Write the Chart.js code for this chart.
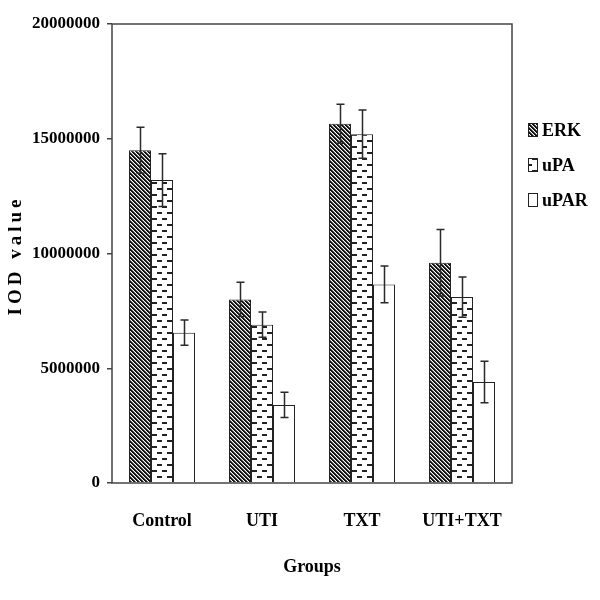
<!DOCTYPE html>
<html>
<head>
<meta charset="utf-8">
<script src="https://cdn.jsdelivr.net/npm/chart.js@4/dist/chart.umd.min.js"></script>
<style>
  html, body { margin: 0; padding: 0; background: #ffffff; }
  #wrap { width: 600px; height: 600px; }
</style>
</head>
<body>
<div id="wrap"><canvas id="c" width="600" height="600"></canvas></div>
<script>
// ---- data ----
const categories = ["Control", "UTI", "TXT", "UTI+TXT"];
const seriesNames = ["ERK", "uPA", "uPAR"];
const erkValues = [14500000, 8000000, 15650000, 9600000];
const erkErrors = [1000000, 750000, 850000, 1450000];
const upaValues = [13200000, 6900000, 15200000, 8100000];
const upaErrors = [1150000, 550000, 1050000, 880000];
const uparValues = [6550000, 3400000, 8650000, 4400000];
const uparErrors = [550000, 550000, 800000, 900000];
const yTicks = [0, 5000000, 10000000, 15000000, 20000000];
const yTitle = "IOD value";
const xTitle = "Groups";

const FONT = "'Liberation Serif', 'Times New Roman', serif";

// ---- patterns ----
function hatchPattern() {
  const c = document.createElement('canvas');
  c.width = 4; c.height = 4;
  const g = c.getContext('2d');
  g.fillStyle = '#ffffff'; g.fillRect(0, 0, 4, 4);
  g.fillStyle = '#111111';
  for (let y = 0; y < 4; y++) {
    g.fillRect(y, y, 1, 1);
    g.fillRect((y + 1) % 4, y, 1, 1);
  }
  g.fillStyle = '#777777';
  for (let y = 0; y < 4; y++) {
    g.fillRect((y + 2) % 4, y, 1, 1);
  }
  return g.createPattern(c, 'repeat');
}
function dashPattern() {
  const c = document.createElement('canvas');
  c.width = 10; c.height = 12;
  const g = c.getContext('2d');
  g.fillStyle = '#ffffff'; g.fillRect(0, 0, 10, 12);
  g.fillStyle = '#222222';
  g.fillRect(2, 2, 5, 2);
  g.fillRect(7, 8, 3, 2);
  g.fillRect(0, 8, 2, 2);
  return g.createPattern(c, 'repeat');
}
const fills = [hatchPattern(), dashPattern(), '#ffffff'];
const valueSets = [erkValues, upaValues, uparValues];
const errorSets = [erkErrors, upaErrors, uparErrors];

// ---- plugins ----
const errorBars = {
  id: 'errorBars',
  afterDatasetsDraw(chart) {
    const ctx = chart.ctx;
    const ys = chart.scales.y;
    ctx.save();
    ctx.strokeStyle = '#2a2a2a';
    ctx.lineWidth = 1.5;
    chart.data.datasets.forEach((ds, i) => {
      const meta = chart.getDatasetMeta(i);
      meta.data.forEach((el, j) => {
        const v = ds.data[j], e = errorSets[i][j];
        const x = Math.round(el.x) + 0.5;
        const yt = ys.getPixelForValue(v + e);
        const yb = ys.getPixelForValue(v - e);
        ctx.beginPath();
        ctx.moveTo(x, yt); ctx.lineTo(x, yb);
        ctx.moveTo(x - 4, yt); ctx.lineTo(x + 4, yt);
        ctx.moveTo(x - 4, yb); ctx.lineTo(x + 4, yb);
        ctx.stroke();
      });
    });
    ctx.restore();
  }
};

const frame = {
  id: 'frame',
  afterDraw(chart) {
    const a = chart.chartArea;
    const ctx = chart.ctx;
    ctx.save();
    ctx.strokeStyle = '#444444';
    ctx.lineWidth = 1.5;
    ctx.strokeRect(a.left, a.top, a.right - a.left, a.bottom - a.top);
    ctx.restore();
  }
};

const yTitlePlugin = {
  id: 'yTitlePlugin',
  afterDraw(chart) {
    const ctx = chart.ctx;
    const a = chart.chartArea;
    ctx.save();
    ctx.translate(16, (a.top + a.bottom) / 2 + 4);
    ctx.rotate(-Math.PI / 2);
    ctx.font = 'bold 19px ' + FONT;
    ctx.letterSpacing = '4px';
    ctx.fillStyle = '#000000';
    ctx.textAlign = 'center';
    ctx.textBaseline = 'middle';
    ctx.fillText(yTitle, 2, 0);
    ctx.restore();
  }
};

const legendPlugin = {
  id: 'legendPlugin',
  afterDraw(chart) {
    const ctx = chart.ctx;
    const a = chart.chartArea;
    ctx.save();
    ctx.font = 'bold 18px ' + FONT;
    ctx.textBaseline = 'middle';
    ctx.textAlign = 'left';
    chart.data.datasets.forEach((ds, i) => {
      const cy = 130 + i * 35;
      const bx = a.right + 16;
      ctx.fillStyle = ds.backgroundColor;
      ctx.fillRect(bx, cy - 7, 9, 13);
      ctx.strokeStyle = '#222222';
      ctx.lineWidth = 1;
      ctx.strokeRect(bx + 0.5, cy - 6.5, 9, 13);
      ctx.fillStyle = '#000000';
      ctx.fillText(ds.label, bx + 14, cy + 1);
    });
    ctx.restore();
  }
};

// ---- chart ----
new Chart(document.getElementById('c'), {
  type: 'bar',
  data: {
    labels: categories,
    datasets: seriesNames.map((name, i) => ({
      label: name,
      data: valueSets[i],
      backgroundColor: fills[i],
      borderColor: '#222222',
      borderWidth: 1,
      categoryPercentage: 0.66,
      barPercentage: 1.0
    }))
  },
  options: {
    responsive: false,
    animation: false,
    devicePixelRatio: 1,
    layout: { padding: { top: 24, right: 88, left: 0, bottom: 0 } },
    plugins: {
      legend: { display: false },
      tooltip: { enabled: false }
    },
    scales: {
      x: {
        grid: { display: false, drawTicks: false },
        border: { display: false },
        ticks: {
          color: '#000000',
          font: { family: FONT, size: 18, weight: 'bold' },
          padding: 28,
          maxRotation: 0
        },
        title: {
          display: true,
          text: xTitle,
          color: '#000000',
          font: { family: FONT, size: 18, weight: 'bold' },
          padding: { top: 0, bottom: 22 }
        },
        afterFit(s) { s.height = 117; }
      },
      y: {
        min: 0,
        max: 20000000,
        afterBuildTicks(s) { s.ticks = yTicks.map(v => ({ value: v })); },
        grid: { display: true, drawOnChartArea: false, drawTicks: true, tickLength: 5, color: '#444444', lineWidth: 1.5 },
        border: { display: false },
        ticks: {
          color: '#000000',
          font: { family: FONT, size: 17, weight: 'bold' },
          padding: 7,
          callback: v => String(v)
        },
        afterFit(s) { s.width = 112; }
      }
    }
  },
  plugins: [errorBars, frame, yTitlePlugin, legendPlugin]
});
</script>
</body>
</html>
